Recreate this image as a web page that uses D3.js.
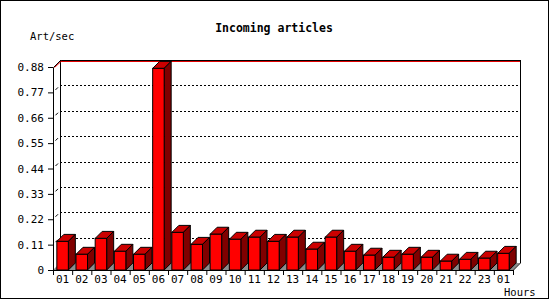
<!DOCTYPE html>
<html>
<head>
<meta charset="utf-8">
<script src="https://cdn.jsdelivr.net/npm/d3@7"></script>
<style>
  html, body { margin: 0; padding: 0; background: #fff; }
  text { font-family: "DejaVu Sans Mono", monospace; fill: #000; }
</style>
</head>
<body>
<div id="chart"></div>
<script>
// hours along the bottom, articles/sec for each
const hours = ["01","02","03","04","05","06","07","08","09","10","11","12",
               "13","14","15","16","17","18","19","20","21","22","23","01"];
const rates = [0.124, 0.068, 0.137, 0.081, 0.068, 0.874, 0.163, 0.111, 0.155, 0.133, 0.142, 0.124,
               0.142, 0.090, 0.142, 0.081, 0.064, 0.055, 0.068, 0.055, 0.038, 0.046, 0.051, 0.072];
const yTicks = [0, 0.11, 0.22, 0.33, 0.44, 0.55, 0.66, 0.77, 0.88];

const width = 550, height = 300;
const depth = 7; // 3d offset
const plot = {left: 53, right: 513, top: 67, bottom: 270};

const svg = d3.select("#chart")
  .append("svg")
    .attr("width", width)
    .attr("height", height);

svg.append("rect")
    .attr("x", 0.5).attr("y", 0.5)
    .attr("width", width - 2).attr("height", height - 2)
    .attr("fill", "#fff")
    .attr("stroke", "#000");

const x = d3.scaleBand()
  .domain(d3.range(hours.length))
  .range([plot.left, plot.right])
  .paddingInner(0.4)
  .paddingOuter(0.2);
const xEdge = d3.scaleLinear()
  .domain([0, hours.length])
  .range([plot.left, plot.right]);
const y = d3.scaleLinear()
  .domain([0, d3.max(yTicks)])
  .range([plot.bottom, plot.top]);

const g = svg.append("g").attr("shape-rendering", "crispEdges");

// back wall grid (dotted), offset by depth
g.selectAll(".grid")
  .data(yTicks.filter(t => t > 0 && t < d3.max(yTicks)))
  .enter()
  .append("line")
    .attr("x1", plot.left + depth).attr("x2", plot.right + depth)
    .attr("y1", d => Math.round(y(d)) - depth + 0.5)
    .attr("y2", d => Math.round(y(d)) - depth + 0.5)
    .attr("stroke", "#000")
    .attr("stroke-dasharray", "2,2");

// small slashes on the front axis
svg.selectAll(".slash")
  .data(yTicks.filter(t => t > 0 && t < d3.max(yTicks)))
  .enter()
  .append("line")
    .attr("x1", plot.left + 2.5).attr("x2", plot.left + 5)
    .attr("y1", d => y(d) - 2.5).attr("y2", d => y(d) - 5)
    .attr("stroke", "#000");

const topY = Math.round(y(d3.max(yTicks))) - depth + 0.5;
// back wall outline
g.append("line")
    .attr("x1", plot.left + depth + 0.5).attr("x2", plot.left + depth + 0.5)
    .attr("y1", topY).attr("y2", plot.bottom - depth)
    .attr("stroke", "#000");
g.append("line")
    .attr("x1", plot.right + depth + 0.5).attr("x2", plot.right + depth + 0.5)
    .attr("y1", topY).attr("y2", plot.bottom - depth)
    .attr("stroke", "#000");
g.append("line")
    .attr("x1", plot.left + depth).attr("x2", plot.right + depth + 1)
    .attr("y1", topY).attr("y2", topY)
    .attr("stroke", "#000");
g.append("line")
    .attr("x1", plot.left + depth + 1).attr("x2", plot.right + depth)
    .attr("y1", topY + 1).attr("y2", topY + 1)
    .attr("stroke", "#e00000");
svg.append("line")
    .attr("x1", plot.left + 0.5).attr("y1", y(d3.max(yTicks)) + 0.5)
    .attr("x2", plot.left + depth + 0.5).attr("y2", topY)
    .attr("stroke", "#000");
svg.append("line")
    .attr("x1", plot.left + 1.5).attr("y1", y(d3.max(yTicks)) + 0.5)
    .attr("x2", plot.left + depth + 1.5).attr("y2", topY + 0.5)
    .attr("stroke", "#e00000");

// floor
svg.append("polygon")
    .attr("points", [
      [plot.left, plot.bottom], [plot.left + depth, plot.bottom - depth],
      [plot.right + depth, plot.bottom - depth], [plot.right, plot.bottom]
    ].map(p => p.join(",")).join(" "))
    .attr("fill", "#8c8c8c");
svg.append("line")
    .attr("x1", plot.right + 0.5).attr("y1", plot.bottom)
    .attr("x2", plot.right + depth + 0.5).attr("y2", plot.bottom - depth)
    .attr("stroke", "#000");

// bars
const bars = svg.selectAll(".bar")
  .data(rates)
  .enter()
  .append("g")
    .attr("class", "bar");

const bw = x.bandwidth();
bars.append("polygon")
    .attr("points", (d, i) => {
      const x0 = x(i), yt = y(d);
      return [[x0, yt], [x0 + depth, yt - depth], [x0 + bw + depth, yt - depth], [x0 + bw, yt]]
        .map(p => p.join(",")).join(" ");
    })
    .attr("fill", "#cc0000")
    .attr("stroke", "#000");
bars.append("polygon")
    .attr("points", (d, i) => {
      const x0 = x(i) + bw, yt = y(d), yb = y(0);
      return [[x0, yt], [x0 + depth, yt - depth], [x0 + depth, yb - depth], [x0, yb]]
        .map(p => p.join(",")).join(" ");
    })
    .attr("fill", "#800000")
    .attr("stroke", "#000");
bars.append("rect")
    .attr("x", (d, i) => x(i))
    .attr("y", d => y(d))
    .attr("width", bw)
    .attr("height", d => y(0) - y(d))
    .attr("fill", "#ff0000")
    .attr("stroke", "#000");

// axes
const yAxis = svg.append("g")
    .attr("transform", `translate(${plot.left},0)`)
  .call(d3.axisLeft(y)
        .tickValues(yTicks)
        .tickSize(5)
        .tickSizeOuter(0)
        .tickPadding(4)
        .tickFormat(d => d === 0 ? "0" : d.toFixed(2)));
yAxis.selectAll("text").style("font-size", "11px");

svg.append("g")
    .attr("transform", `translate(0,${plot.bottom})`)
  .call(d3.axisBottom(xEdge)
        .tickValues(d3.range(hours.length + 1))
        .tickSize(5)
        .tickSizeOuter(0)
        .tickFormat(""));

const xLabels = svg.append("g")
    .attr("transform", `translate(0,${plot.bottom})`)
  .call(d3.axisBottom(x)
        .tickSize(0)
        .tickPadding(5)
        .tickFormat(i => hours[i]));
xLabels.select(".domain").remove();
xLabels.selectAll("text").style("font-size", "11px");

svg.selectAll(".domain, .tick line").attr("stroke", "#000");
svg.selectAll(".tick text").attr("fill", "#000").style("font-family", "DejaVu Sans Mono, monospace");

// titles
svg.append("text")
    .attr("x", 274).attr("y", 32)
    .attr("text-anchor", "middle")
    .style("font-size", "11.5px")
    .style("font-weight", "bold")
    .text("Incoming articles");
svg.append("text")
    .attr("x", 30).attr("y", 40)
    .style("font-size", "10.5px")
    .text("Art/sec");
svg.append("text")
    .attr("x", 504).attr("y", 296)
    .style("font-size", "10.5px")
    .text("Hours");
</script>
</body>
</html>
